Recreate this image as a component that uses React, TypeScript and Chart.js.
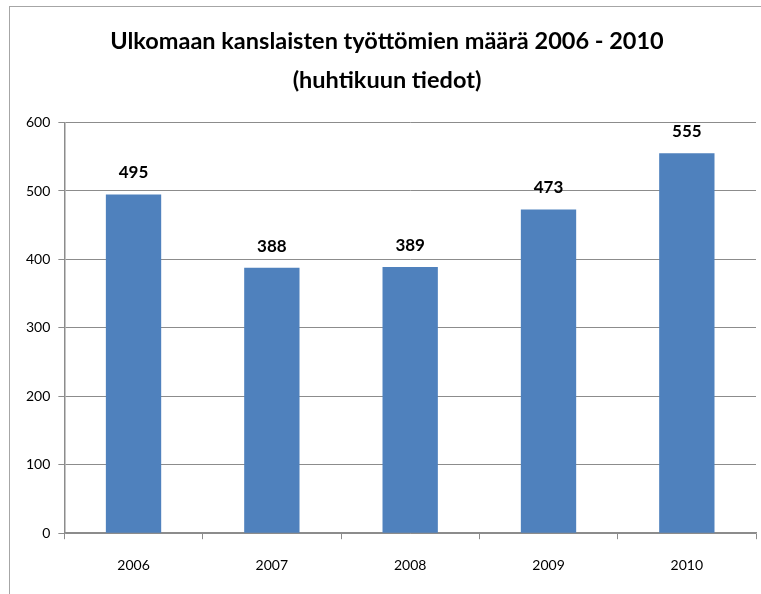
import React, { useEffect, useRef } from "react";
import { Chart, registerables } from "chart.js";

Chart.register(...registerables);

const categories = ["2006", "2007", "2008", "2009", "2010"];
const values = [495, 388, 389, 473, 555];
const titleLines = ["Ulkomaan kanslaisten työttömien määrä 2006 - 2010", "(huhtikuun tiedot)"];
const yMin = 0;
const yMax = 600;
const yStep = 100;

const FONT = "Lato, 'Liberation Sans', sans-serif";

const valueLabels = {
  id: "valueLabels",
  afterDatasetsDraw(chart: any) {
    const ctx = chart.ctx;
    const meta = chart.getDatasetMeta(0);
    ctx.save();
    ctx.font = `bold 17px ${FONT}`;
    ctx.fillStyle = "#000";
    ctx.textAlign = "center";
    ctx.textBaseline = "alphabetic";
    meta.data.forEach((bar: any, i: number) => {
      ctx.fillText(String(values[i]), bar.x, bar.y - 16);
    });
    ctx.restore();
  },
};

export default function App() {
  const ref = useRef<HTMLCanvasElement>(null);
  useEffect(() => {
    if (!ref.current) return;
    const chart = new Chart(ref.current, {
      type: "bar",
      data: {
        labels: categories,
        datasets: [
          {
            data: values,
            backgroundColor: "#4F81BD",
            barPercentage: 0.4,
            categoryPercentage: 1,
          },
        ],
      },
      options: {
        animation: false,
        responsive: false,
        layout: { padding: { left: 8, right: 5, top: 0, bottom: 5 } },
        plugins: {
          legend: { display: false },
          tooltip: { enabled: false },
          title: {
            display: true,
            text: titleLines,
            color: "#000",
            font: { family: FONT, size: 23.5, weight: "bold", lineHeight: 1.65 },
            padding: { top: 15, bottom: 23 },
          },
        },
        scales: {
          x: {
            grid: {
              display: true,
              drawOnChartArea: false,
              tickLength: 6,
              color: "#8c8c8c",
              offset: true,
            },
            border: { color: "#8c8c8c", width: 1.5 },
            ticks: { color: "#000", font: { family: FONT, size: 14 }, padding: 18 },
          },
          y: {
            min: yMin,
            max: yMax,
            ticks: {
              stepSize: yStep,
              color: "#000",
              font: { family: FONT, size: 14 },
              padding: 8,
            },
            grid: { color: "#8c8c8c", tickLength: 6 },
            border: { color: "#8c8c8c", width: 1.5 },
          },
        },
      },
      plugins: [valueLabels],
    });
    return () => chart.destroy();
  }, []);
  return (
    <div
      style={{
        position: "absolute",
        left: 9,
        top: 6,
        width: 760,
        height: 600,
        borderLeft: "1px solid #a6a6a6",
        borderTop: "1px solid #a6a6a6",
        background: "#fff",
      }}
    >
      <canvas ref={ref} width={751} height={590} style={{ display: "block" }} />
    </div>
  );
}
